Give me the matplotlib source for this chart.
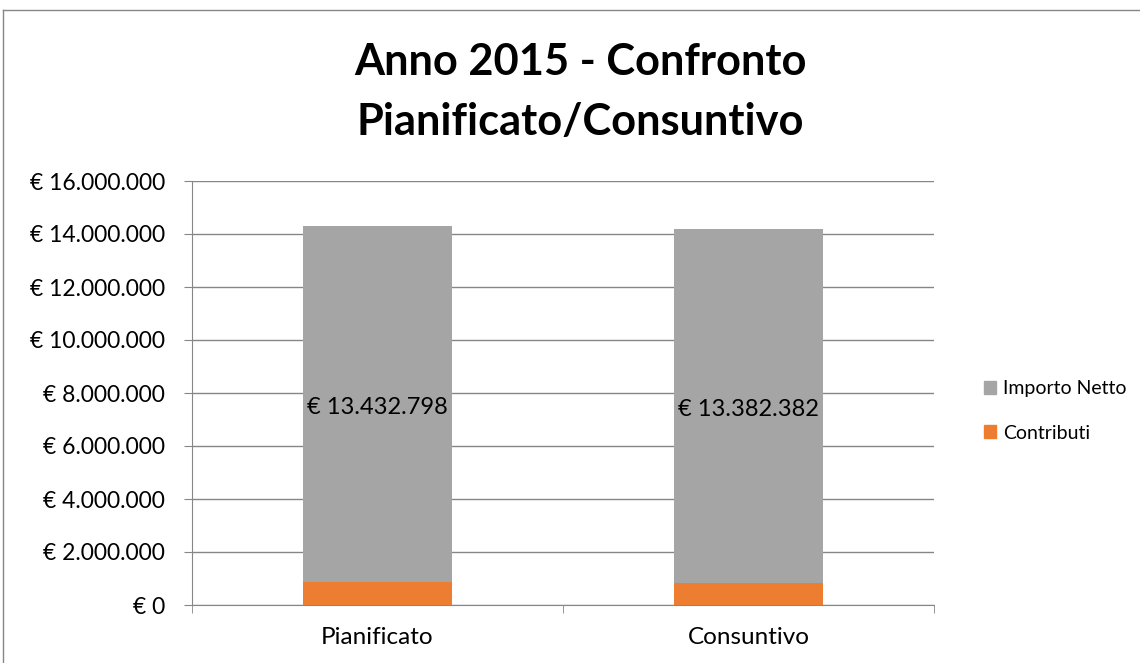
import matplotlib
matplotlib.use("Agg")
import matplotlib.pyplot as plt
from matplotlib.lines import Line2D
from matplotlib.patches import Patch
from matplotlib.ticker import FuncFormatter, MultipleLocator

categories = ["Pianificato", "Consuntivo"]
contributi = [880000, 820000]
importo_netto = [13432798, 13382382]
series_names = ["Importo Netto", "Contributi"]
title = "Anno 2015 - Confronto\nPianificato/Consuntivo"

plt.rcParams['font.family'] = ['Lato', 'DejaVu Sans']

def eur(v):
    s = f"{int(round(v)):,}".replace(",", ".")
    return f"€ {s}"

fig = plt.figure(figsize=(11.4, 6.63), dpi=100)
ax = fig.add_axes([192/1140, 1-605/663, (934-192)/1140, (605-181)/663])

x = list(range(len(categories)))
w = 0.40
c_gray = "#A5A5A5"
c_orange = "#ED7D31"
ax.bar(x, contributi, width=w, color=c_orange, zorder=3)
ax.bar(x, importo_netto, width=w, bottom=contributi, color=c_gray, zorder=3)
for xi, b, v in zip(x, contributi, importo_netto):
    ax.text(xi, b + v/2 - 150000, eur(v), ha="center", va="center", fontsize=17, color="black", zorder=4)

ax.set_xlim(-0.5, 1.5)
ax.set_ylim(0, 16000000)
ax.yaxis.set_major_locator(MultipleLocator(2000000))
ax.yaxis.set_major_formatter(FuncFormatter(lambda v, p: eur(v)))
ax.grid(axis="y", color="#868686", linewidth=1, zorder=0)
ax.set_axisbelow(True)
for s in ["top", "right"]:
    ax.spines[s].set_visible(False)
ax.spines["left"].set_color("#868686")
ax.spines["bottom"].set_color("#868686")
ax.tick_params(axis="y", length=5.5, color="#868686", labelsize=16.5, pad=14)
ax.set_xticks(x)
ax.set_xticklabels(categories, fontsize=17.5)
ax.tick_params(axis="x", length=0, pad=16)
ax.set_xticks([-0.5, 0.5, 1.5], minor=True)
ax.tick_params(axis="x", which="minor", length=5.5, color="#868686")

fig.text(580/1140, 1-92/663, title, ha="center", va="center", fontsize=31.2,
         fontweight="bold", linespacing=1.6)

handles = [Patch(color=c_gray), Patch(color=c_orange)]
leg = fig.legend(handles, series_names, loc="center left",
                 bbox_to_anchor=(966/1140, 1-411/663), frameon=False, fontsize=14,
                 handlelength=0.65, handleheight=0.65, handletextpad=0.35, labelspacing=1.4)

fig.add_artist(Line2D([3/1140, 1], [1-10/663, 1-10/663], color="#868686", lw=1))
fig.add_artist(Line2D([3/1140, 3/1140], [0, 1-10/663], color="#868686", lw=1))

fig.savefig("out.png", dpi=100, facecolor="white")
